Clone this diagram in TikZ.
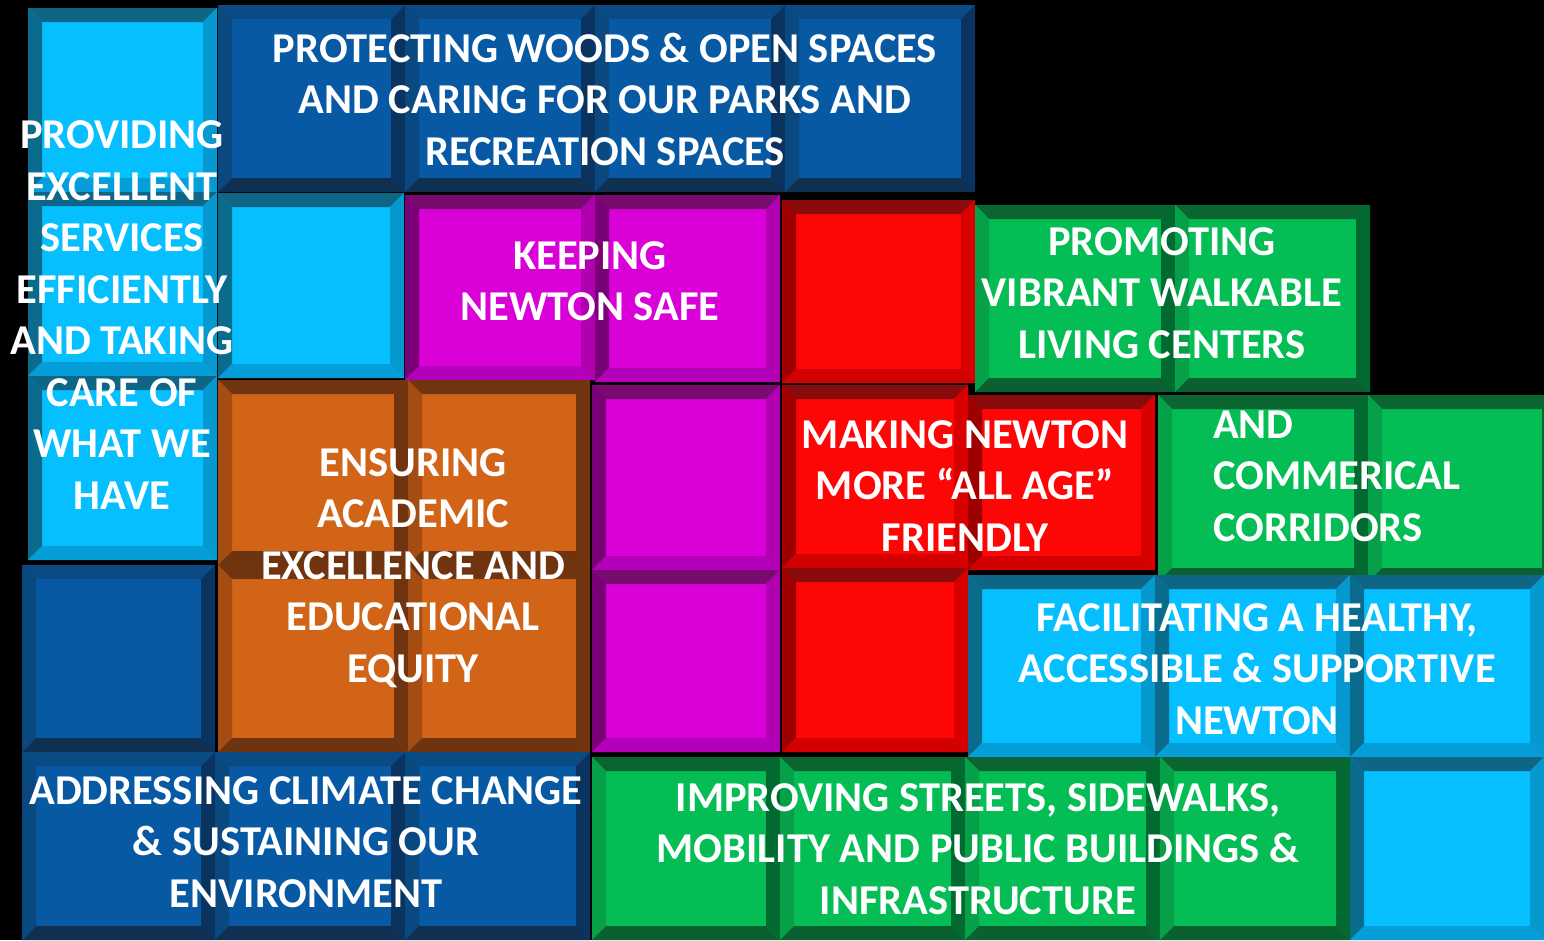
\documentclass[tikz,border=0pt]{standalone}
\usepackage{fontspec}
\setmainfont{Carlito}
\usepackage{tikz}
\usetikzlibrary{positioning}
% face, top, left, right, bottom shades of each piece
\definecolor{cyanF}{HTML}{05BFFF}\definecolor{cyanT}{HTML}{0E6585}\definecolor{cyanL}{HTML}{0B6B8C}\definecolor{cyanR}{HTML}{0599D0}\definecolor{cyanB}{HTML}{069ED8}
\definecolor{navyF}{HTML}{0859A3}\definecolor{navyT}{HTML}{0A4A85}\definecolor{navyL}{HTML}{0A4880}\definecolor{navyR}{HTML}{0A3360}\definecolor{navyB}{HTML}{0F3050}
\definecolor{magF}{HTML}{DA00D8}\definecolor{magT}{HTML}{780A70}\definecolor{magL}{HTML}{7A0078}\definecolor{magR}{HTML}{B000B0}\definecolor{magB}{HTML}{B400B8}
\definecolor{redF}{HTML}{FF0606}\definecolor{redT}{HTML}{8A0B0B}\definecolor{redL}{HTML}{9E0000}\definecolor{redR}{HTML}{D80000}\definecolor{redB}{HTML}{D20000}
\definecolor{grnF}{HTML}{05BD55}\definecolor{grnT}{HTML}{0B6530}\definecolor{grnL}{HTML}{06A048}\definecolor{grnR}{HTML}{006A30}\definecolor{grnB}{HTML}{0A6030}
\definecolor{orgF}{HTML}{D26418}\definecolor{orgT}{HTML}{703510}\definecolor{orgL}{HTML}{A44C12}\definecolor{orgR}{HTML}{703510}\definecolor{orgB}{HTML}{6E3410}
\tikzset{
  goal/.style={text=white, font=\fontsize{42.5}{51.5}\selectfont\bfseries, align=center, inner sep=0pt},
}
% \tile{colour}{x1}{y1}{x2}{y2}: one bevelled square
\newcommand{\tile}[5]{%
  \fill[#1F] (#2,#3) rectangle (#4,#5);
  \fill[#1T] (#2,#3) -- (#4,#3) -- ({#4-14},{#3+14}) -- ({#2+14},{#3+14}) -- cycle;
  \fill[#1L] (#2,#3) -- ({#2+14},{#3+14}) -- ({#2+14},{#5-14}) -- (#2,#5) -- cycle;
  \fill[#1R] (#4,#3) -- (#4,#5) -- ({#4-14},{#5-14}) -- ({#4-14},{#3+14}) -- cycle;
  \fill[#1B] (#2,#5) -- (#4,#5) -- ({#4-14},{#5-14}) -- ({#2+14},{#5-14}) -- cycle;
}

\begin{document}
\begin{tikzpicture}[x=1pt, y=-1pt]
\useasboundingbox (0,0) rectangle (1544,940);
\fill[black] (0,0) rectangle (1544,940);
\clip (0,0) rectangle (1544,940);
% left column
\tile{cyan}{28}{8}{217}{192}
\tile{cyan}{28}{192}{217}{376}
\tile{cyan}{28}{376}{217}{560}
\tile{cyan}{218}{193}{404}{378}
% top bar
\tile{navy}{218}{5}{405}{192}
\tile{navy}{405}{5}{595}{192}
\tile{navy}{595}{5}{785}{192}
\tile{navy}{785}{5}{975}{192}
% safety
\tile{mag}{405}{195}{595}{380}
\tile{mag}{595}{195}{780}{382}
\tile{mag}{592}{385}{780}{570}
\tile{mag}{592}{570}{780}{752}
% all age
\tile{red}{782}{200}{975}{383}
\tile{red}{782}{385}{968}{568}
\tile{red}{782}{568}{968}{752}
\tile{red}{968}{395}{1155}{570}
% living centers
\tile{grn}{975}{205}{1175}{392}
\tile{grn}{1175}{205}{1370}{392}
\tile{grn}{1158}{395}{1368}{582}
\tile{grn}{1368}{395}{1556}{582}
% healthy newton
\tile{cyan}{968}{575}{1155}{757}
\tile{cyan}{1155}{575}{1350}{757}
\tile{cyan}{1350}{575}{1544}{757}
\tile{cyan}{1350}{757}{1544}{940}
% streets
\tile{grn}{592}{757}{780}{940}
\tile{grn}{780}{757}{965}{940}
\tile{grn}{965}{757}{1160}{940}
\tile{grn}{1160}{757}{1350}{940}
% schools
\tile{org}{218}{380}{408}{565}
\tile{org}{408}{380}{590}{565}
\tile{org}{218}{565}{408}{752}
\tile{org}{408}{565}{590}{752}
% climate
\tile{navy}{22}{565}{215}{752}
\tile{navy}{22}{752}{215}{940}
\tile{navy}{215}{752}{405}{940}
\tile{navy}{405}{752}{590}{940}
% labels
\node[goal] (services) at (122,315) {PROVIDING\\EXCELLENT\\SERVICES\\EFFICIENTLY\\AND TAKING\\CARE OF\\WHAT WE\\HAVE};
\node[goal] (woods) at (605,99) {PROTECTING WOODS \& OPEN SPACES\\AND CARING FOR OUR PARKS AND\\RECREATION SPACES};
\node[goal] (safe) at (590,281) {KEEPING\\NEWTON SAFE};
\node[goal] (schools) at (413,568) {ENSURING\\ACADEMIC\\EXCELLENCE AND\\EDUCATIONAL\\EQUITY};
\node[goal] (allage) at (965,486) {MAKING NEWTON\\MORE “ALL AGE”\\FRIENDLY};
\node[goal] (centers) at (1162,293) {PROMOTING\\VIBRANT WALKABLE\\LIVING CENTERS};
\node[goal, align=left, anchor=west] (corridors) at (1213,476) {AND\\COMMERICAL\\CORRIDORS};
\node[goal] (healthy) at (1257,669) {FACILITATING A HEALTHY,\\ACCESSIBLE \& SUPPORTIVE\\NEWTON};
\node[goal] (streets) at (978,849) {IMPROVING STREETS, SIDEWALKS,\\MOBILITY AND PUBLIC BUILDINGS \&\\INFRASTRUCTURE};
\node[goal] (climate) at (306,842) {ADDRESSING CLIMATE CHANGE\\\& SUSTAINING OUR\\ENVIRONMENT};
\end{tikzpicture}
\end{document}
